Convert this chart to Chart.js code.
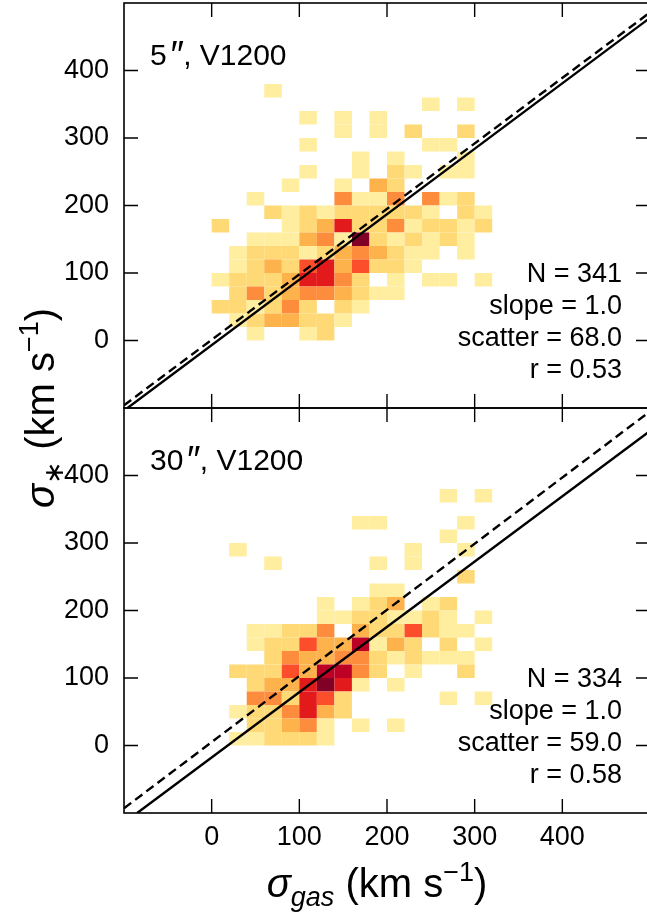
<!DOCTYPE html>
<html>
<head>
<meta charset="utf-8">
<script src="https://cdn.jsdelivr.net/npm/chart.js@4.4.0/dist/chart.umd.min.js"></script>
<style>
  html, body { margin: 0; padding: 0; background: #fff; overflow: hidden; }
  #wrap { position: relative; width: 647px; height: 913px; overflow: hidden; }
  #sigmaChart { position: absolute; left: 0; top: 0; }
</style>
</head>
<body>
<div id="wrap"><canvas id="sigmaChart" width="660" height="913" style="width:660px;height:913px"></canvas></div>
<script>
// bins are 20 km/s wide in both directions
const binSize = 20;
// left edges of the sigma_gas bins (columns)
const gasBins = [0, 20, 40, 60, 80, 100, 120, 140, 160, 180, 200, 220, 240, 260, 280, 300, 320];
// lower edges of the sigma_* bins (rows, top to bottom)
const starBins = [360, 340, 320, 300, 280, 260, 240, 220, 200, 180, 160, 140, 120, 100, 80, 60, 40, 20, 0];

// counts per cell, 5" aperture
const countsTop = [
  [0,0,0,1,0,0,0,0,0,0,0,0,0,0,0,0,0],
  [0,0,0,0,0,0,0,0,0,0,0,0,1,0,1,0,0],
  [0,0,0,0,0,1,0,1,0,1,0,0,0,0,0,0,0],
  [0,0,0,0,0,0,0,1,0,1,0,2,0,0,2,0,0],
  [0,0,0,0,0,1,0,0,0,0,0,0,1,1,0,0,0],
  [0,0,0,0,0,0,0,0,1,0,1,0,0,0,1,0,0],
  [0,0,0,0,0,1,0,0,1,0,2,1,0,1,1,0,0],
  [0,0,0,0,1,0,0,1,0,3,2,0,0,0,0,0,0],
  [0,0,1,0,0,0,0,4,1,1,4,0,4,1,2,0,0],
  [0,0,0,2,1,2,1,2,2,2,2,2,1,0,2,1,0],
  [2,0,0,0,1,2,3,6,2,2,4,1,2,2,1,2,0],
  [0,0,1,1,1,3,4,1,8,2,1,2,1,2,1,0,0],
  [0,1,2,2,2,1,2,3,4,3,2,1,1,0,1,0,0],
  [0,1,2,3,2,5,6,3,5,2,2,1,0,0,0,0,0],
  [1,2,2,2,3,6,6,4,2,0,1,0,1,1,0,1,0],
  [0,2,4,2,3,4,4,3,2,1,1,0,0,0,0,0,0],
  [2,2,1,2,4,2,0,2,1,0,0,0,0,0,0,0,0],
  [0,1,2,3,3,2,2,1,0,0,0,0,0,0,0,0,0],
  [0,0,1,0,0,1,2,0,0,0,0,0,0,0,0,0,0]
];

// counts per cell, 30" aperture
const countsBottom = [
  [0,0,0,0,0,0,0,0,0,0,0,0,0,1,0,1,0],
  [0,0,0,0,0,0,0,0,0,0,0,0,0,0,0,0,0],
  [0,0,0,0,0,0,0,0,1,1,0,0,0,0,1,0,0],
  [0,0,0,0,0,0,0,0,0,0,0,0,0,1,0,0,0],
  [0,1,0,0,0,0,0,0,0,0,0,1,0,0,1,0,0],
  [0,0,0,1,0,0,0,0,0,1,0,1,0,0,0,0,0],
  [0,0,0,0,0,0,0,0,0,0,0,0,0,0,2,0,0],
  [0,0,0,0,0,0,0,0,0,1,1,0,0,0,0,0,0],
  [0,0,0,0,0,0,1,0,1,2,3,0,1,2,0,0,0],
  [0,0,0,0,0,0,1,1,2,2,1,1,2,1,0,1,0],
  [0,0,1,1,2,2,4,0,3,2,2,5,2,1,1,0,0],
  [0,0,1,2,2,5,3,3,7,1,3,2,0,2,0,1,0],
  [0,0,0,2,4,3,3,4,4,2,1,2,1,1,1,0,0],
  [0,2,2,2,5,3,7,7,4,2,0,1,0,0,2,0,0],
  [0,0,2,3,3,6,8,6,1,0,1,0,0,0,0,0,0],
  [0,0,4,4,2,6,5,2,0,0,0,0,0,1,0,1,0],
  [0,1,2,2,4,6,3,2,0,0,0,0,0,0,0,0,0],
  [0,0,2,2,3,4,1,0,1,0,1,0,0,0,0,0,0],
  [0,1,1,2,2,2,1,0,0,0,0,0,0,0,0,0,0]
];

// one-to-one (dashed) and fitted (solid) relations, [sigma_gas, sigma_*]
const oneToOneTop = [[-100, -96], [500, 486]];
const fitTop = [[-96, -100], [500, 478]];
const oneToOneBottom = [[-100, -93], [500, 495]];
const fitBottom = [[-85, -100], [500, 466]];

// panel labels: aperture, then grating
const apertureTop = '5';
const apertureBottom = '30';
const gratingName = 'V1200';
const statsTop = ['N = 341', 'slope = 1.0', 'scatter = 68.0', 'r = 0.53'];
const statsBottom = ['N = 334', 'slope = 1.0', 'scatter = 59.0', 'r = 0.58'];
const tickValues = [0, 100, 200, 300, 400];

// YlOrRd steps, one per count
const countColors = ['#ffeda0', '#fed976', '#feb24c', '#fd8d3c', '#fc4e2a', '#e31a1c', '#bd0026', '#800026'];

const FONT = '"Liberation Sans", Arial, sans-serif';
const toPoints = arr => arr.map(([x, y]) => ({ x, y }));

function lineSet(data, axis, dashed) {
  return {
    data: toPoints(data),
    yAxisID: axis,
    showLine: true,
    borderColor: '#000',
    borderWidth: 2.4,
    borderDash: dashed ? [9, 5] : [],
    pointRadius: 0,
    fill: false
  };
}

function noPadding(s) {
  s.paddingTop = 0;
  s.paddingBottom = 0;
  s.paddingLeft = 0;
  s.paddingRight = 0;
}

function yScale() {
  return {
    type: 'linear',
    position: 'left',
    stack: 'panels',
    stackWeight: 1,
    min: -100,
    max: 500,
    grid: { display: false, drawTicks: false },
    border: { display: false },
    ticks: {
      stepSize: 100,
      color: '#000',
      padding: 15,
      font: { family: FONT, size: 27 },
      callback: v => (tickValues.includes(v) ? v : '')
    },
    afterFit: s => { s.width = 124; noPadding(s); }
  };
}

// 2d histogram cells
const heatmapPlugin = {
  id: 'heatmap',
  beforeDatasetsDraw(chart) {
    const { ctx } = chart;
    const x = chart.scales.x;
    [[countsTop, chart.scales.yTop], [countsBottom, chart.scales.yBottom]].forEach(([grid, ys]) => {
      ctx.save();
      ctx.beginPath();
      ctx.rect(x.left, ys.top, x.right - x.left, ys.bottom - ys.top);
      ctx.clip();
      grid.forEach((row, r) => {
        row.forEach((n, c) => {
          if (!n) return;
          const x0 = x.getPixelForValue(gasBins[c]);
          const x1 = x.getPixelForValue(gasBins[c] + binSize);
          const y0 = ys.getPixelForValue(starBins[r]);
          const y1 = ys.getPixelForValue(starBins[r] + binSize);
          ctx.fillStyle = countColors[Math.min(n, countColors.length) - 1];
          ctx.fillRect(x0, y1, x1 - x0, y0 - y1);
        });
      });
      ctx.restore();
    });
  }
};

function richText(ctx, pieces, x, y) {
  let total = 0;
  pieces.forEach(p => { ctx.font = p.font; p.w = ctx.measureText(p.text).width; total += p.w; });
  let cx = x - total / 2;
  pieces.forEach(p => {
    ctx.font = p.font;
    ctx.fillText(p.text, cx, y + (p.dy || 0));
    cx += p.w;
  });
}

// "5″, V1200" with a larger, slanted double prime like mathtext
function panelLabel(ctx, aperture, x, y) {
  ctx.font = '30px ' + FONT;
  ctx.fillText(aperture, x, y);
  let cx = x + ctx.measureText(aperture).width + 2;
  ctx.font = 'italic 38px ' + FONT;
  ctx.fillText('\u2033', cx, y + 3);
  cx += ctx.measureText('\u2033').width + 1;
  ctx.font = '30px ' + FONT;
  ctx.fillText(', ' + gratingName, cx, y);
}

// frames, inward ticks and all annotations
const decorPlugin = {
  id: 'decor',
  afterDraw(chart) {
    const { ctx } = chart;
    const x = chart.scales.x;
    const tickLen = 14;
    ctx.save();
    ctx.strokeStyle = '#000';
    ctx.fillStyle = '#000';
    [[chart.scales.yTop, apertureTop, statsTop], [chart.scales.yBottom, apertureBottom, statsBottom]].forEach(([ys, aperture, stats]) => {
      ctx.lineWidth = 1.6;
      ctx.strokeRect(x.left, ys.top, x.right - x.left, ys.bottom - ys.top);
      ctx.lineWidth = 1.4;
      ctx.beginPath();
      tickValues.forEach(v => {
        const px = x.getPixelForValue(v);
        ctx.moveTo(px, ys.top); ctx.lineTo(px, ys.top + tickLen);
        ctx.moveTo(px, ys.bottom); ctx.lineTo(px, ys.bottom - tickLen);
        const py = ys.getPixelForValue(v);
        ctx.moveTo(x.left, py); ctx.lineTo(x.left + tickLen, py);
        ctx.moveTo(x.right, py); ctx.lineTo(x.right - tickLen, py);
      });
      ctx.stroke();

      ctx.textBaseline = 'alphabetic';
      ctx.textAlign = 'left';
      panelLabel(ctx, aperture, x.left + 26, ys.top + 61.5);

      ctx.textAlign = 'right';
      ctx.font = '27px ' + FONT;
      stats.forEach((s, i) => ctx.fillText(s, 622, ys.top + 279 + i * 32));
    });

    ctx.textAlign = 'left';
    const big = 40, small = 27;
    const xTitle = [
      { text: '\u03c3', font: `italic ${big}px ${FONT}` },
      { text: 'gas', font: `italic ${small}px ${FONT}`, dy: 9 },
      { text: ' (km s', font: `${big}px ${FONT}` },
      { text: '\u22121', font: `${small}px ${FONT}`, dy: -16 },
      { text: ')', font: `${big}px ${FONT}` }
    ];
    richText(ctx, xTitle, (x.left + x.right) / 2 - 10, 897);

    const yTitle = [
      { text: '\u03c3', font: `italic ${big}px ${FONT}` },
      { text: '\u2217', font: `${small}px ${FONT}`, dy: 9 },
      { text: ' (km s', font: `${big}px ${FONT}` },
      { text: '\u22121', font: `${small}px ${FONT}`, dy: -16 },
      { text: ')', font: `${big}px ${FONT}` }
    ];
    ctx.translate(54, (chart.scales.yTop.top + chart.scales.yBottom.bottom) / 2);
    ctx.rotate(-Math.PI / 2);
    richText(ctx, yTitle, 0, 0);
    ctx.restore();
  }
};

const chart = new Chart(document.getElementById('sigmaChart').getContext('2d'), {
  type: 'scatter',
  data: {
    datasets: [
      lineSet(oneToOneTop, 'yTop', true),
      lineSet(fitTop, 'yTop', false),
      lineSet(oneToOneBottom, 'yBottom', true),
      lineSet(fitBottom, 'yBottom', false)
    ]
  },
  options: {
    responsive: false,
    animation: false,
    layout: { padding: { top: 3, right: 10, left: 0, bottom: 0 } },
    plugins: { legend: { display: false }, tooltip: { enabled: false } },
    scales: {
      x: {
        type: 'linear',
        min: -100,
        max: 500,
        grid: { display: false, drawTicks: false },
        border: { display: false },
        ticks: {
          stepSize: 100,
          color: '#000',
          padding: 8,
          maxRotation: 0,
          autoSkip: false,
          font: { family: FONT, size: 27 },
          callback: v => (tickValues.includes(v) ? v : '')
        },
        afterFit: s => { s.height = 100; noPadding(s); }
      },
      yBottom: yScale(),
      yTop: yScale()
    }
  },
  plugins: [heatmapPlugin, decorPlugin]
});
</script>
</body>
</html>
